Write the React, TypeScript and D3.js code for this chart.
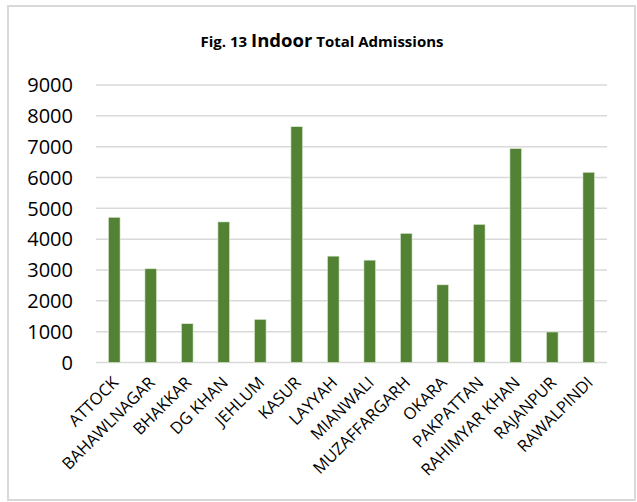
import React from "react";
import * as d3 from "d3";

const categories = [
  "ATTOCK", "BAHAWLNAGAR", "BHAKKAR", "DG KHAN", "JEHLUM", "KASUR", "LAYYAH",
  "MIANWALI", "MUZAFFARGARH", "OKARA", "PAKPATTAN", "RAHIMYAR KHAN", "RAJANPUR", "RAWALPINDI",
];
const admissions = [4710, 3040, 1260, 4560, 1400, 7650, 3450, 3320, 4190, 2520, 4480, 6940, 990, 6170];
const yTicks = [0, 1000, 2000, 3000, 4000, 5000, 6000, 7000, 8000, 9000];

const W = 637;
const H = 502;
const plotLeft = 96;
const plotRight = 607;
const plotTop = 85;
const plotBottom = 362.5;

export default function App() {
  const x = d3
    .scaleBand<string>()
    .domain(categories)
    .range([plotLeft, plotRight])
    .paddingInner(0.68)
    .paddingOuter(0.34);
  const y = d3.scaleLinear().domain([0, 9000]).range([plotBottom, plotTop]);
  const font = "'Open Sans', sans-serif";

  return (
    <svg
      width={W}
      height={H}
      style={{ position: "absolute", left: 0, top: 0, background: "#fff" }}
    >
      <rect x={8} y={6} width={627} height={494} fill="#fff" stroke="#d9d9d9" strokeWidth={2} />
      <text
        x={322}
        y={47}
        textAnchor="middle"
        fontFamily={font}
        fontWeight="bold"
        fill="#000"
        fontSize={15}
      >
        Fig. 13 <tspan fontSize={18.5}>Indoor</tspan> Total Admissions
      </text>
      {yTicks.map((t) => (
        <g key={t}>
          <line
            x1={plotLeft}
            x2={plotRight}
            y1={y(t)}
            y2={y(t)}
            stroke="#d9d9d9"
            strokeWidth={1.5}
          />
          <text
            x={73}
            y={y(t)}
            dy="0.36em"
            textAnchor="end"
            fontFamily={font}
            fontSize={20}
            fill="#000"
          >
            {t}
          </text>
        </g>
      ))}
      {categories.map((c, i) => (
        <rect
          key={c}
          x={x(c)}
          y={y(admissions[i])}
          width={x.bandwidth()}
          height={plotBottom - y(admissions[i])}
          fill="#548235"
          stroke="#e2efda"
          strokeWidth={0.6}
        />
      ))}
      {categories.map((c) => {
        const cx = (x(c) as number) + x.bandwidth() / 2 - 3;
        const cy = plotBottom + 13;
        return (
          <text
            key={c}
            transform={`translate(${cx},${cy}) rotate(-45)`}
            textAnchor="end"
            dy="0.7em"
            fontFamily={font}
            fontSize={16.5}
            fill="#000"
          >
            {c}
          </text>
        );
      })}
    </svg>
  );
}
